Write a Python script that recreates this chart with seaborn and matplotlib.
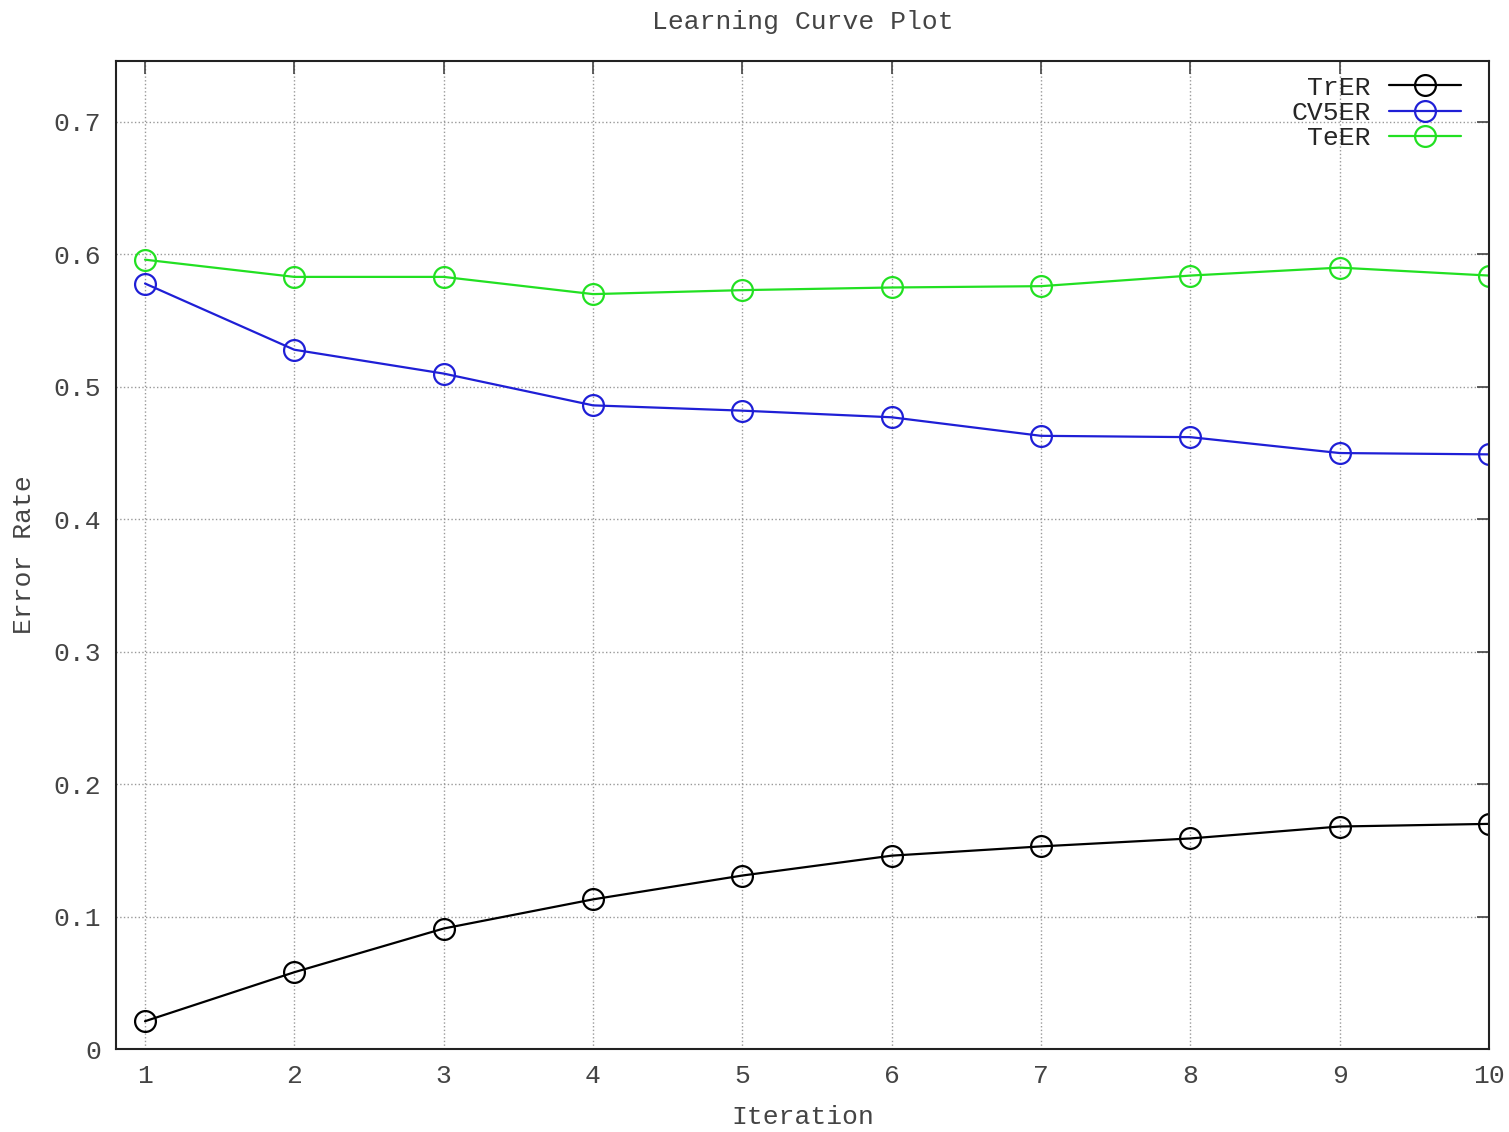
import pandas as pd
import matplotlib
matplotlib.use("Agg")
import matplotlib.pyplot as plt
import seaborn as sns

iterations = [1, 2, 3, 4, 5, 6, 7, 8, 9, 10]
tr_er = [0.021, 0.058, 0.091, 0.113, 0.131, 0.146, 0.153, 0.159, 0.168, 0.170]
cv5_er = [0.578, 0.528, 0.510, 0.486, 0.482, 0.477, 0.463, 0.462, 0.450, 0.449]
te_er = [0.596, 0.583, 0.583, 0.570, 0.573, 0.575, 0.576, 0.584, 0.590, 0.584]
series_names = ["TrER", "CV5ER", "TeER"]
series_colors = ["#000000", "#1f1fd6", "#22e022"]

sns.set_style("white")
plt.rcParams['font.family'] = ['Liberation Mono', 'DejaVu Sans Mono']

fig = plt.figure(figsize=(15.09, 11.32), dpi=100)
ax = fig.add_axes([0.0769, 0.0733, 0.9098, 0.8728])

for name, vals, col in zip(series_names, [tr_er, cv5_er, te_er], series_colors):
    sns.lineplot(x=iterations, y=vals, ax=ax, color=col, linewidth=1.6,
                 marker='o', markersize=15, markerfacecolor='none',
                 markeredgecolor=col, markeredgewidth=1.6, label=name)

ax.set_xlim(0.806, 10)
ax.set_ylim(0, 0.746)
ax.set_xticks(iterations)
ax.set_yticks([0, 0.1, 0.2, 0.3, 0.4, 0.5, 0.6, 0.7])
ax.set_yticklabels(["0", "0.1", "0.2", "0.3", "0.4", "0.5", "0.6", "0.7"])
ax.grid(True, linestyle=':', color='#999999', linewidth=1)
ax.tick_params(direction='in', length=9, width=1.2, top=True, right=True,
               labelsize=19, colors='#444444', pad=11)
for sp in ax.spines.values():
    sp.set_color('#222222')
    sp.set_linewidth(1.5)

ax.set_title("Learning Curve Plot", fontsize=19, color='#444444', pad=23)
ax.set_xlabel("Iteration", fontsize=19, color='#444444', labelpad=12)
ax.set_ylabel("Error Rate", fontsize=19, color='#444444', labelpad=12)

ax.legend(loc='upper right', frameon=False, markerfirst=False, fontsize=19,
          handlelength=2.7, labelspacing=0.05, borderaxespad=0.4,
          borderpad=0.15, handletextpad=0.7, bbox_to_anchor=(0.990, 1.0))

fig.savefig("out.png", dpi=100)
